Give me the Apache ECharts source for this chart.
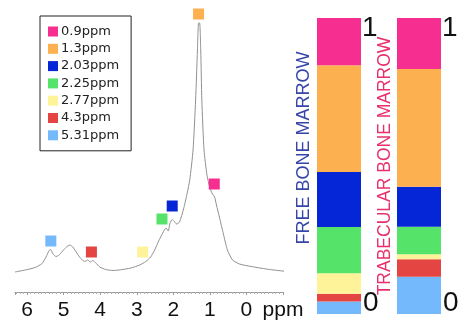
<!DOCTYPE html>
<html><head><meta charset="utf-8">
<script src="https://cdn.jsdelivr.net/npm/echarts@6/dist/echarts.min.js"></script>
<style>html,body{margin:0;padding:0;background:#fff}#c{width:462px;height:327px}</style>
</head><body><div id="c"></div>
<script>
// Peak labels (legend order) and colours
const ppmLabels = ['0.9ppm','1.3ppm','2.03ppm','2.25ppm','2.77ppm','4.3ppm','5.31ppm'];
const peakColors = ['#f52e8f','#fdb04f','#0526d6','#55e36a','#fff39a','#e44442','#74b9fb'];
// Marker positions on the spectrum (ppm, intensity)
const markerPpm = [0.88, 1.31, 2.03, 2.31, 2.84, 4.24, 5.35];
const markerInt = [108, 278, 86, 73, 40, 40, 51];
// Relative fractions in the two stacked bars (same order as ppmLabels)
const barCategories = ['FREE BONE MARROW','TRABECULAR BONE MARROW'];
const freeMarrow = [0.160, 0.360, 0.186, 0.156, 0.070, 0.026, 0.042];
const trabMarrow = [0.172, 0.398, 0.135, 0.093, 0.017, 0.059, 0.126];
// Spectrum: chemical shift (ppm) and intensity (a.u.)
const specPpm = [6.33,6.05,5.78,5.59,5.48,5.40,5.36,5.29,5.21,5.14,5.05,4.94,4.83,4.75,4.64,4.53,4.42,4.34,4.27,4.20,4.12,4.01,3.85,3.65,3.44,3.16,2.92,2.75,2.62,2.51,2.40,2.29,2.20,2.14,2.09,2.03,1.98,1.91,1.83,1.72,1.62,1.55,1.46,1.39,1.34,1.31,1.28,1.25,1.22,1.16,1.08,1.00,0.93,0.87,0.82,0.74,0.63,0.52,0.38,0.19,-0.16,-0.63,-1.17];
const specInt = [20,22,24.5,28.5,35,41.5,42.5,38,35.5,36.5,40,44.5,47,45,39,33.5,30.5,32,30,31.5,29,25,22.5,21.5,22.2,24,27,30.5,35,42,51,59,64,61,69,72.5,71,68,70,83,99,112,142,192,242,269,269,242,192,142,117,104,98,95,87,75,58,42,32,28,25.3,22.5,20.3];
// Axis tick labels
const xTickValues = [6,5,4,3,2,1,0];
const xUnit = 'ppm';

const chart = echarts.init(document.getElementById('c'), null, {renderer:'canvas'});
const series = [];
series.push({
  type:'line', xAxisIndex:0, yAxisIndex:0, showSymbol:false, clip:false, silent:true,
  smooth:0.2,
  lineStyle:{color:'#909090', width:1},
  data: specPpm.map((p,i)=>[p, specInt[i]]), z:2
});
ppmLabels.forEach((name,i)=>{
  series.push({
    type:'scatter', name, xAxisIndex:0, yAxisIndex:0, symbol:'rect', symbolSize:11, clip:false,
    itemStyle:{color:peakColors[i], opacity:1}, data:[[markerPpm[i], markerInt[i]]], z:3
  });
});
// stacked bars, bottom segment first
for (let k = ppmLabels.length-1; k >= 0; k--) {
  const s = {
    type:'bar', name:ppmLabels[k], xAxisIndex:1, yAxisIndex:1, stack:'s', barWidth:44,
    itemStyle:{color:peakColors[k], opacity:1},
    data:[freeMarrow[k], trabMarrow[k]]
  };
  if (k === 0) s.label = {show:true, position:['100%',0], offset:[1,-4], formatter:'1', fontSize:28, color:'#111', fontFamily:'Liberation Sans', align:'left', verticalAlign:'top'};
  if (k === ppmLabels.length-1) s.label = {show:true, position:['100%','100%'], offset:[2,3], formatter:'0', fontSize:28, color:'#111', fontFamily:'Liberation Sans', align:'left', verticalAlign:'bottom'};
  series.push(s);
}

chart.setOption({
  animation:false,
  textStyle:{fontFamily:'Liberation Sans'},
  grid:[
    {left:15, right:179, top:11, bottom:35},
    {left:299, width:160, top:18, bottom:13}
  ],
  xAxis:[
    {type:'value', gridIndex:0, inverse:true, min:-1, max:6.33, interval:1,
     axisLine:{lineStyle:{color:'#9a9a9a', width:1}},
     axisTick:{show:true, inside:false, length:3, lineStyle:{color:'#9a9a9a'}},
     minorTick:{show:true, splitNumber:10, length:2, lineStyle:{color:'#b0b0b0'}},
     splitLine:{show:false},
     axisLabel:{fontSize:21, color:'#111', margin:8, fontFamily:'Liberation Sans',
       formatter:(v)=>{ if (Math.abs(v+1)<1e-6) return xUnit; const r=Math.round(v); return (Math.abs(v-r)<1e-6 && xTickValues.indexOf(r)>=0) ? String(r) : ''; }}
    },
    {type:'category', gridIndex:1, data:barCategories, show:false}
  ],
  yAxis:[
    {type:'value', gridIndex:0, min:0, max:281, show:false},
    {type:'value', gridIndex:1, min:0, max:1, show:false}
  ],
  legend:{
    data:ppmLabels, orient:'vertical', left:40, top:16, icon:'rect',
    itemWidth:10, itemHeight:10, itemGap:4.3,
    padding:[9,12,9,8], borderColor:'#222', borderWidth:1,
    textStyle:{fontFamily:'DejaVu Sans', fontSize:13, color:'#222', padding:[0,0,0,-2]},
    selectedMode:false
  },
  graphic:[
    {type:'text', x:313, y:148, rotation:Math.PI/2, style:{text:barCategories[0], fill:'#3646a8', font:'18px "Liberation Sans"', align:'center', verticalAlign:'bottom'}},
    {type:'text', x:394, y:166, rotation:Math.PI/2, style:{text:barCategories[1], fill:'#e8306a', font:'17.5px "Liberation Sans"', align:'center', verticalAlign:'bottom'}}
  ],
  series
});
</script></body></html>
